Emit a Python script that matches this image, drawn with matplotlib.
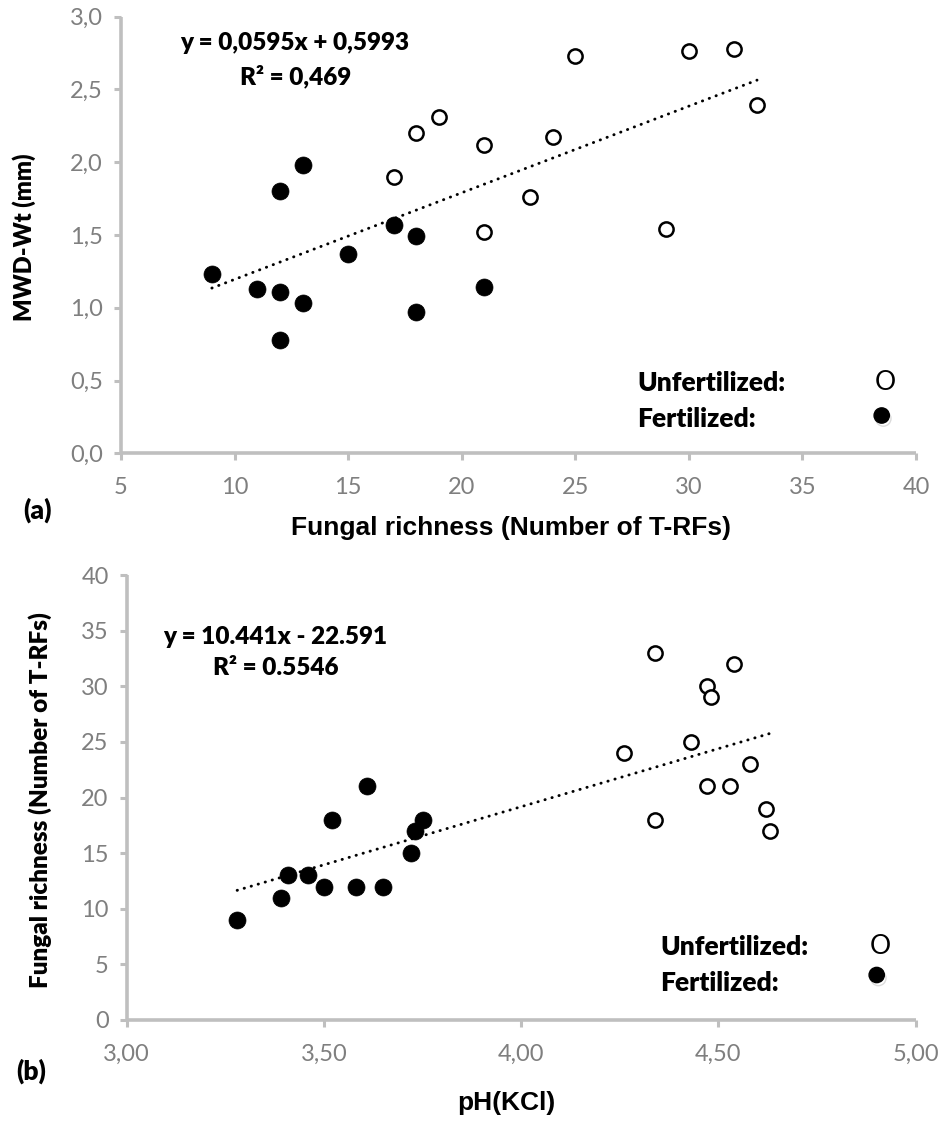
import matplotlib
matplotlib.use("Agg")
import matplotlib.pyplot as plt
import matplotlib.patheffects as pe
from matplotlib.ticker import FuncFormatter, MultipleLocator

W, H = 941, 1122

# (a) fungal richness vs aggregate stability
rich_unfert = [17, 18, 19, 21, 21, 23, 24, 25, 29, 30, 32, 33]
mwd_unfert = [1.90, 2.20, 2.31, 2.12, 1.52, 1.76, 2.17, 2.73, 1.54, 2.76, 2.78, 2.39]
rich_fert = [9, 11, 12, 12, 12, 13, 13, 15, 17, 18, 18, 21]
mwd_fert = [1.23, 1.13, 1.11, 1.80, 0.78, 1.03, 1.98, 1.37, 1.57, 1.49, 0.97, 1.14]
fit_a = (0.0595, 0.5993)

# (b) soil pH vs fungal richness
ph_unfert = [4.34, 4.54, 4.47, 4.48, 4.43, 4.26, 4.58, 4.47, 4.53, 4.62, 4.34, 4.63]
richb_unfert = [33, 32, 30, 29, 25, 24, 23, 21, 21, 19, 18, 17]
ph_fert = [3.28, 3.39, 3.41, 3.46, 3.50, 3.58, 3.65, 3.52, 3.61, 3.72, 3.73, 3.75]
richb_fert = [9, 11, 13, 13, 12, 12, 12, 18, 21, 15, 17, 18]
fit_b = (10.441, -22.591)

CAL = "Lato"
ARI = "Liberation Sans"
BOLD = "heavy"
GREY_TXT = "#7f7f7f"
GREY_AX = "#bfbfbf"


def fpos(x, y):
    # pixel position -> figure fraction
    return x / W, 1 - y / H


def style_axes(ax, xfmt, yfmt):
    for s in ("top", "right"):
        ax.spines[s].set_visible(False)
    for s in ("left", "bottom"):
        ax.spines[s].set_color(GREY_AX)
        ax.spines[s].set_linewidth(2.6)
        ax.spines[s].set_capstyle("butt")
    ax.tick_params(axis="both", colors=GREY_AX, width=2.2, length=5,
                   labelcolor=GREY_TXT, labelsize=17)
    ax.tick_params(axis="x", pad=12)
    ax.tick_params(axis="y", pad=8)
    ax.xaxis.set_major_formatter(FuncFormatter(xfmt))
    ax.yaxis.set_major_formatter(FuncFormatter(yfmt))
    for lab in ax.get_xticklabels() + ax.get_yticklabels():
        lab.set_family(CAL)


def draw_panel(ax, xu, yu, xf, yf, fit):
    ax.scatter(xf, yf, s=150, c="black", edgecolors="black", linewidths=0.5,
               zorder=3, clip_on=False)
    ax.scatter(xu, yu, s=105, facecolors="white", edgecolors="black",
               linewidths=1.8, zorder=3, clip_on=False)
    xs = xu + xf
    x0, x1 = min(xs), max(xs)
    k, b = fit
    ax.plot([x0, x1], [k * x0 + b, k * x1 + b], color="black", lw=2.1,
            linestyle=(0, (0.1, 2.4)), dash_capstyle="round", zorder=2)


def legend(fig, x_txt, y_u, y_f, x_sym, y_dot):
    fig.text(*fpos(x_txt, y_u), "Unfertilized:", family=CAL, weight=BOLD,
             fontsize=19, va="center", ha="left")
    fig.text(*fpos(x_txt, y_f), "Fertilized:", family=CAL, weight=BOLD,
             fontsize=19, va="center", ha="left")
    fig.text(*fpos(x_sym, y_u), "O", family=CAL, fontsize=19,
             va="center", ha="center")
    dot = fig.add_artist(plt.Line2D([x_sym / W - 0.0035], [1 - y_dot / H],
                                    marker="o", markersize=11,
                                    color="black", transform=fig.transFigure))
    dot.set_path_effects([pe.SimpleLineShadow(offset=(1.2, -2.2),
                                              shadow_color="#999999", alpha=0.35),
                          pe.Normal()])


fig = plt.figure(figsize=(W / 100, H / 100), dpi=100)

# ---- panel (a)
ax1 = fig.add_axes([121 / W, 1 - 453.3 / H, (916 - 121) / W, (453.3 - 16.5) / H])
draw_panel(ax1, rich_unfert, mwd_unfert, rich_fert, mwd_fert, fit_a)
ax1.set_xlim(5, 40)
ax1.set_ylim(0, 3.0)
ax1.xaxis.set_major_locator(MultipleLocator(5))
ax1.yaxis.set_major_locator(MultipleLocator(0.5))
style_axes(ax1, lambda v, p: f"{v:.0f}", lambda v, p: f"{v:.1f}".replace(".", ","))

fig.text(*fpos(295, 43), "y = 0,0595x + 0,5993", family=CAL, weight=BOLD,
         fontsize=17.5, ha="center", va="center")
fig.text(*fpos(296, 76), "R² = 0,469", family=CAL, weight=BOLD,
         fontsize=17.5, ha="center", va="center")
legend(fig, 637, 383, 419, 885, 415.5)

fig.text(*fpos(511, 528), "Fungal richness (Number of T-RFs)", family=ARI,
         weight="bold", fontsize=19, ha="center", va="center")
fig.text(*fpos(24, 237), "MWD-Wt (mm)", family=CAL, weight=BOLD,
         fontsize=17, ha="center", va="center", rotation=90)
fig.text(*fpos(38, 510), "(a)", family=CAL, weight=BOLD, fontsize=19,
         ha="center", va="center")

# ---- panel (b)
ax2 = fig.add_axes([126.7 / W, 1 - 1020 / H, (915.7 - 126.7) / W, (1020 - 575) / H])
draw_panel(ax2, ph_unfert, richb_unfert, ph_fert, richb_fert, fit_b)
ax2.set_xlim(3.0, 5.0)
ax2.set_ylim(0, 40)
ax2.xaxis.set_major_locator(MultipleLocator(0.5))
ax2.yaxis.set_major_locator(MultipleLocator(5))
style_axes(ax2, lambda v, p: f"{v:.2f}".replace(".", ","), lambda v, p: f"{v:.0f}")

fig.text(*fpos(275, 637), "y = 10.441x - 22.591", family=CAL, weight=BOLD,
         fontsize=17.5, ha="center", va="center")
fig.text(*fpos(276, 668), "R² = 0.5546", family=CAL, weight=BOLD,
         fontsize=17.5, ha="center", va="center")
legend(fig, 660, 947, 983, 880, 975)

fig.text(*fpos(506, 1103), "pH(KCl)", family=ARI, weight="bold", fontsize=19,
         ha="center", va="center")
fig.text(*fpos(40, 800), "Fungal richness (Number of T-RFs)", family=CAL,
         weight=BOLD, fontsize=17.5, ha="center", va="center", rotation=90)
fig.text(*fpos(31, 1071), "(b)", family=CAL, weight=BOLD, fontsize=19,
         ha="center", va="center")

fig.savefig("out.png", dpi=100, facecolor="white")
